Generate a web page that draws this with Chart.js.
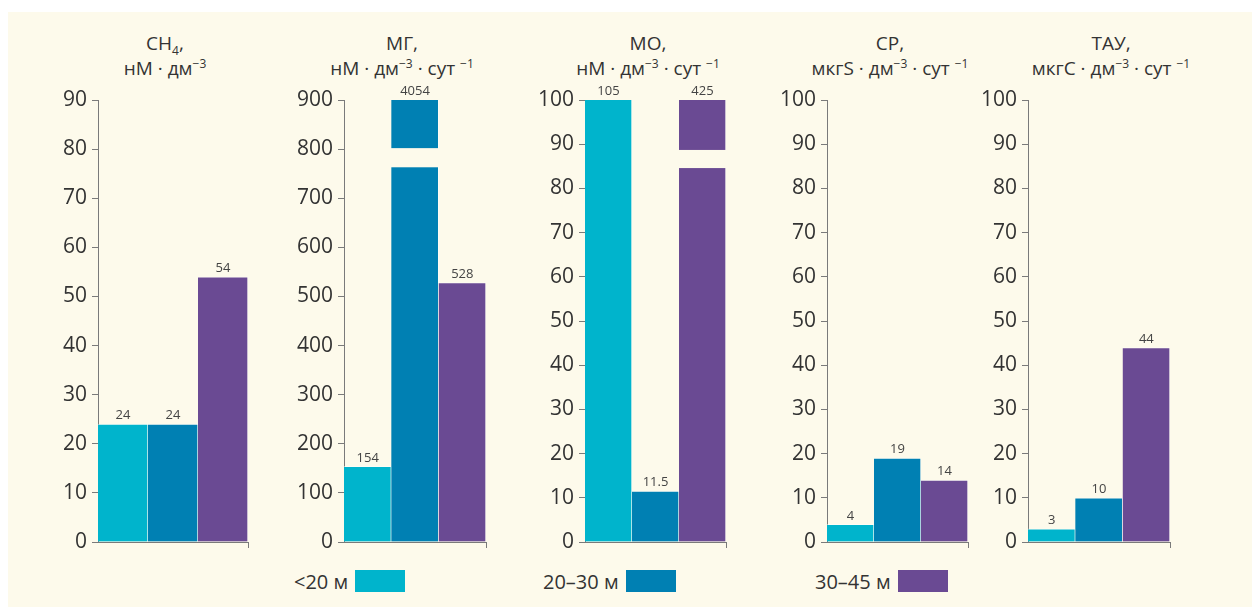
<!DOCTYPE html>
<html><head><meta charset="utf-8">
<script src="https://cdn.jsdelivr.net/npm/chart.js@4"></script>
<style>
body{margin:0;background:#fff;width:1252px;height:607px;overflow:hidden;font-family:'Open Sans',sans-serif;position:relative;}
#bg{position:absolute;left:8px;top:12px;width:1244px;height:595px;background:#fdfaeb;}
canvas{position:absolute;top:80px;}
.ttl{position:absolute;top:31px;width:260px;text-align:center;font-size:19px;color:#333;line-height:25px;}
.ttl sup{font-size:12px;vertical-align:7px;line-height:0;}
.ttl sub{font-size:12px;vertical-align:-5px;line-height:0;}
.lg{position:absolute;top:568px;font-size:20px;color:#333;display:flex;align-items:center;height:26px;}
.sw{width:50px;height:22px;margin-left:7px;}
</style>
</head><body>
<div id="bg"></div>
<div id="wrap"></div>
<script>
// данные
const depthGroups = ['<20 м', '20–30 м', '30–45 м'];
const depthColors = ['#00b4cc', '#0080b3', '#6a4a93'];
const ch4Values = [24, 24, 54];
const mgValues = [154, 4054, 528];
const moValues = [105, 11.5, 425];
const srValues = [4, 19, 14];
const tauValues = [3, 10, 44];
const axisMax = [90, 900, 100, 100, 100];
const axisStep = [10, 100, 10, 10, 10];
// разрывы столбцов [от, до]
const mgBreaks = [null, [763, 802], null];
const moBreaks = [null, null, [84.6, 88.7]];
const titles = [
  'CH<sub>4</sub>,<br>нМ · дм<sup>−3</sup>',
  'МГ,<br>нМ · дм<sup>−3</sup> · сут <sup>−1</sup>',
  'МО,<br>нМ · дм<sup>−3</sup> · сут <sup>−1</sup>',
  'СР,<br>мкгS · дм<sup>−3</sup> · сут <sup>−1</sup>',
  'ТАУ,<br>мкгC · дм<sup>−3</sup> · сут <sup>−1</sup>'
];

const series = [ch4Values, mgValues, moValues, srValues, tauValues];
const breaks = [null, mgBreaks, moBreaks, null, null];
const frames = [{x:98,w:150,t:165},{x:344,w:142,t:402},{x:585,w:141,t:648},{x:827,w:141,t:890},{x:1028,w:142,t:1111}];
const BG = '#fdfaeb', AX = '#7a7a7a';

const barLabels = {
  id:'barLabels',
  afterDatasetsDraw(chart){
    const {ctx, chartArea} = chart;
    const meta = chart.getDatasetMeta(0);
    const br = chart.$breaks;
    const y = chart.scales.y;
    ctx.save();
    meta.data.forEach((bar, i)=>{
      if (br && br[i]){
        const top = y.getPixelForValue(br[i][1]), bot = y.getPixelForValue(br[i][0]);
        ctx.fillStyle = BG;
        ctx.fillRect(bar.x - bar.width/2 - 1, top, bar.width + 2, bot - top);
      }
      const v = chart.data.datasets[0].data[i];
      const ty = Math.max(bar.y, chartArea.top);
      ctx.fillStyle = '#444';
      ctx.font = '13px "Open Sans"';
      ctx.textAlign = 'center';
      ctx.textBaseline = 'bottom';
      ctx.fillText(String(v), bar.x, ty - 2);
    });
    ctx.restore();
  }
};

const wrap = document.getElementById('wrap');
series.forEach((vals, p)=>{
  const f = frames[p];
  const t = document.createElement('div');
  t.className = 'ttl'; t.innerHTML = titles[p];
  t.style.left = (f.t - 130) + 'px';
  wrap.appendChild(t);

  const cv = document.createElement('canvas');
  const W = 64 + f.w + 12, H = 480;
  cv.width = W; cv.height = H;
  cv.style.left = (f.x - 64) + 'px';
  cv.style.width = W + 'px'; cv.style.height = H + 'px';
  wrap.appendChild(cv);

  const chart = new Chart(cv.getContext('2d'), {
    type:'bar',
    data:{ labels: depthGroups, datasets:[{ data: vals, backgroundColor: depthColors,
      borderColor:'rgba(255,255,255,0.45)', borderWidth:{top:1,right:1,left:0,bottom:0}, borderSkipped:'bottom',
      categoryPercentage:1, barPercentage:1 }]},
    options:{
      responsive:false, animation:false, devicePixelRatio:1,
      layout:{padding:{top:20,right:12,left:0,bottom:0}},
      plugins:{legend:{display:false}, tooltip:{enabled:false}},
      scales:{
        x:{ ticks:{display:false},
            grid:{offset:true, drawOnChartArea:false, tickLength:6, color: c=> c.type==='scale' ? AX : 'rgba(0,0,0,0)'},
            border:{color:AX, width:1},
            afterFit: s=>{ s.height = 18; } },
        y:{ min:0, max:axisMax[p],
            ticks:{stepSize:axisStep[p], color:'#333', padding:5, font:{size:21, family:'Open Sans'}},
            grid:{drawOnChartArea:false, tickLength:6, color:AX},
            border:{color:AX, width:1},
            afterFit: s=>{ s.width = 64; } }
      }
    },
    plugins:[barLabels]
  });
  chart.$breaks = breaks[p];
  chart.update();
});

// легенда
const legendX = [294, 543, 815];
depthGroups.forEach((g, i)=>{
  const d = document.createElement('div');
  d.className = 'lg';
  d.style.left = legendX[i] + 'px';
  d.innerHTML = `<span>${g.replace('<','&lt;')}</span><span class="sw" style="background:${depthColors[i]}"></span>`;
  wrap.appendChild(d);
});
</script>
</body></html>
